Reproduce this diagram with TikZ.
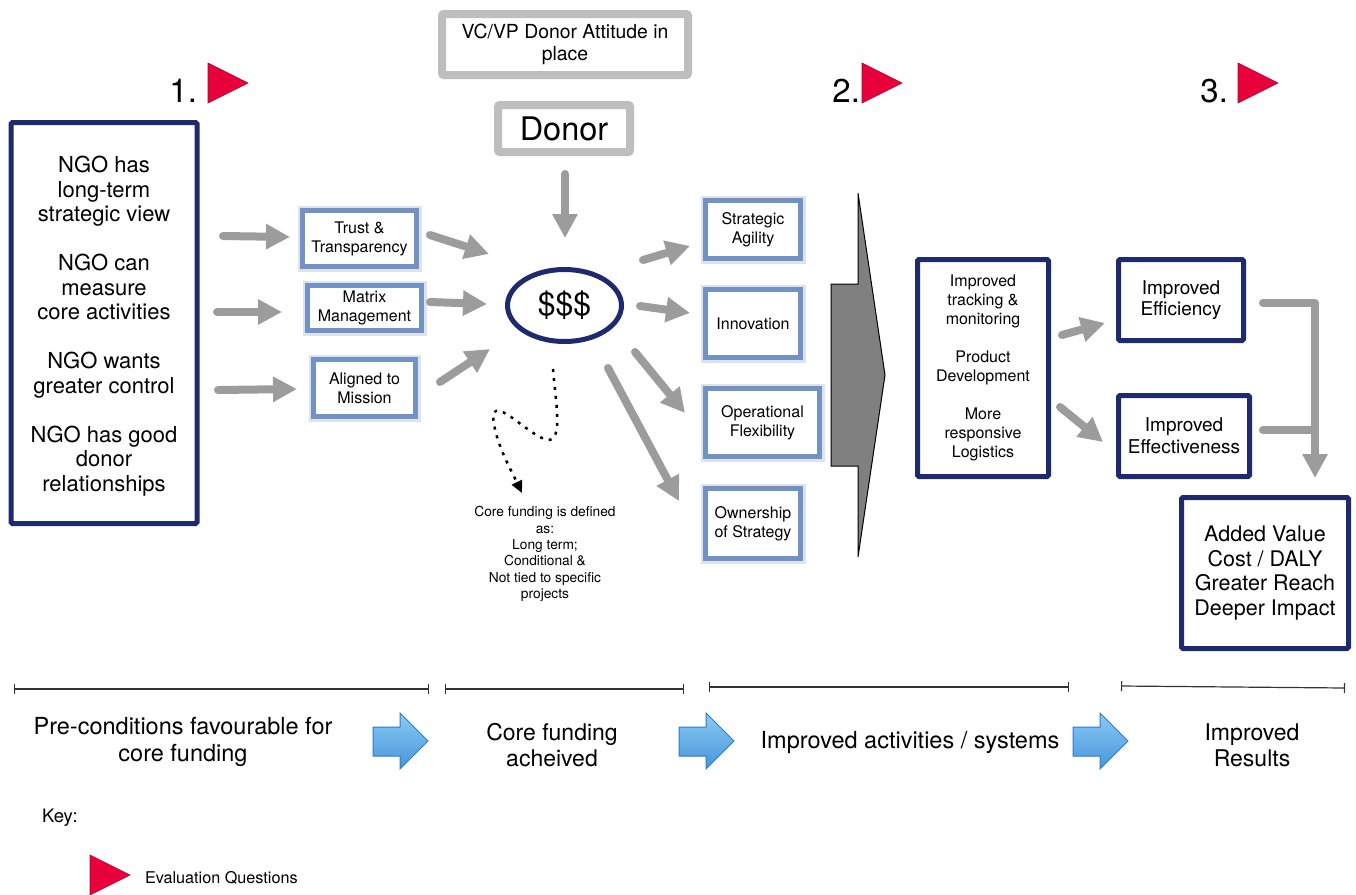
\documentclass[tikz,border=0pt]{standalone}
\usepackage{fontspec}
\setmainfont{TeX Gyre Heros}
\usetikzlibrary{arrows.meta,shapes.geometric}

\definecolor{navy}{HTML}{1F2A6E}
\definecolor{boxblue}{HTML}{7092C4}
\definecolor{halo}{HTML}{DFE2E8}
\definecolor{donorgray}{HTML}{BEBEBE}
\definecolor{arrowgray}{HTML}{9C9C9C}
\definecolor{evalred}{HTML}{E8003A}
\definecolor{wedgegray}{HTML}{808080}
\definecolor{skyA}{HTML}{8ACAF5}
\definecolor{skyB}{HTML}{4795DA}
\definecolor{skyline}{HTML}{2C7CCB}

\newcommand\setfs[2]{\fontsize{#1}{#2}\selectfont}
% blue stage arrow, #1 = left x of the shaft
\newcommand\skyarrow[1]{%
  \draw[skyline, line width=1pt, top color=skyA, bottom color=skyB]
    (#1,727) -- ++(27,0) -- ++(0,-14) -- ++(28,28) -- ++(-28,28)
    -- ++(0,-13) -- ++(-27,0) -- cycle;}
% red evaluation-question flag, #1 = left x, #2 = top y
\newcommand\evalflag[2]{%
  \draw[evalred!75!black, line width=0.6pt, fill=evalred]
    (#1,#2) -- ++(0,40) -- ++(40,-20) -- cycle;}

\begin{document}
\begin{tikzpicture}[x=1pt,y=-1pt,
  every node/.style={inner sep=0pt, outer sep=0pt, align=center, text=black},
  navybox/.style={draw=navy, line width=5pt, fill=white, rounded corners=1.5pt},
  bluebox/.style={draw=boxblue, line width=5pt, fill=white,
    preaction={draw=halo, line width=10pt}, font=\setfs{16}{19}},
  graybox/.style={draw=donorgray, line width=8pt, fill=white, rounded corners=2pt},
  garrow/.style={draw=arrowgray, line width=8pt, line cap=round,
    -{Triangle[width=24pt,length=24pt]}},
  gline/.style={draw=arrowgray, line width=8pt, line cap=round},
  bracket/.style={draw=black!80, line width=1.2pt, {Bar[width=10pt]}-{Bar[width=10pt]}},
]
\useasboundingbox (0,0) rectangle (1356,894);
\fill[white] (0,0) rectangle (1356,894);

% ---- evaluation question markers
\node[anchor=base east, font=\setfs{33}{36}] (q1) at (197,102) {1.};
\node[anchor=base east, font=\setfs{33}{36}] (q2) at (860,102) {2.};
\node[anchor=base east, font=\setfs{33}{36}] (q3) at (1228,102) {3.};
\evalflag{208}{63}
\evalflag{862}{63}
\evalflag{1238}{63}

% ---- pre-conditions
\node[navybox, minimum width=186pt, minimum height=401pt] (pre) at (104,323) {};
\node[font=\setfs{22}{24.5}] (pretext) at (104,326)
  {NGO has\\long-term\\strategic view\\[24.5pt]NGO can\\measure\\core activities\\[24.5pt]NGO wants\\greater control\\[24.5pt]NGO has good\\donor\\relationships};

\node[bluebox, minimum width=114pt, minimum height=56pt] (trust) at (359.5,238.5) {Trust \&\\Transparency};
\node[bluebox, minimum width=114pt, minimum height=45pt] (matrix) at (364.5,308) {Matrix\\Management};
\node[bluebox, minimum width=102pt, minimum height=57pt] (aligned) at (364.5,388) {Aligned to\\Mission};

% ---- donor and core funding
\node[graybox, minimum width=246pt, minimum height=61pt, font=\setfs{19.4}{22}]
  (attitude) at (565,44.5) {VC/VP Donor Attitude in\\place};
\node[graybox, minimum width=132pt, minimum height=47pt, font=\setfs{32.5}{36}]
  (donor) at (564,128.5) {Donor};
\node[ellipse, draw=navy, line width=5pt, fill=white, minimum width=114pt,
  minimum height=72pt, font=\setfs{32}{36}] (money) at (564.5,305.5) {\$\$\$};

\node[font=\setfs{13.75}{16.4}] (coredef) at (545,554)
  {Core funding is defined\\as:\\Long term;\\Conditional \&\\Not tied to specific\\projects};

% ---- improved activities
\draw[draw=black, line width=1pt, fill=wedgegray]
  (858,193) -- (885,375) -- (858,557) -- (858,466) -- (831,466) -- (831,284) -- (858,284) -- cycle;

\node[bluebox, minimum width=95pt, minimum height=58pt] (agility) at (753,229.5) {Strategic\\Agility};
\node[bluebox, minimum width=95pt, minimum height=68pt] (innov) at (753,323.5) {Innovation};
\node[bluebox, minimum width=114pt, minimum height=68pt] (opflex) at (762.5,422.5) {Operational\\Flexibility};
\node[bluebox, minimum width=95pt, minimum height=70pt] (owner) at (753,523.5) {Ownership\\of Strategy};

\node[navybox, minimum width=131pt, minimum height=217pt, font=\setfs{16}{19}]
  (track) at (983,368)
  {Improved\\tracking \&\\monitoring\\[19pt]Product\\Development\\[19pt]More\\responsive\\Logistics};

% ---- improved results
\node[navybox, minimum width=125pt, minimum height=81pt, font=\setfs{19}{21.7}]
  (effic) at (1181,300) {Improved\\Efficiency};
\node[navybox, minimum width=131pt, minimum height=81pt, font=\setfs{19}{21.7}]
  (effect) at (1184,436) {Improved\\Effectiveness};
\node[navybox, minimum width=167pt, minimum height=151pt, font=\setfs{21.5}{24.5}]
  (value) at (1265,573) {Added Value\\Cost / DALY\\Greater Reach\\Deeper Impact};

% ---- grey flow arrows
\coordinate (a1s) at (223,236);  \coordinate (a1e) at (290,237);
\coordinate (a2s) at (217,312);  \coordinate (a2e) at (282,312);
\coordinate (a3s) at (218,390);  \coordinate (a3e) at (297,389);
\coordinate (b1s) at (430,235);  \coordinate (b1e) at (489,254);
\coordinate (b2s) at (430,302);  \coordinate (b2e) at (487,304);
\coordinate (b3s) at (440,382);  \coordinate (b3e) at (490,349);
\coordinate (dns) at (565,174);  \coordinate (dne) at (565,238);
\coordinate (c1s) at (643,260);  \coordinate (c1e) at (690,246);
\coordinate (c2s) at (640,306);  \coordinate (c2e) at (690,313);
\coordinate (c3s) at (635,352);  \coordinate (c3e) at (685,413);
\coordinate (c4s) at (608,368);  \coordinate (c4e) at (679,501);
\coordinate (d1s) at (1062,335); \coordinate (d1e) at (1105,323);
\coordinate (d2s) at (1060,407); \coordinate (d2e) at (1103,442);

\draw[garrow] (a1s) -- (a1e);
\draw[garrow] (a2s) -- (a2e);
\draw[garrow] (a3s) -- (a3e);
\draw[garrow] (b1s) -- (b1e);
\draw[garrow] (b2s) -- (b2e);
\draw[garrow] (b3s) -- (b3e);
\draw[garrow] (dns) -- (dne);
\draw[garrow] (c1s) -- (c1e);
\draw[garrow] (c2s) -- (c2e);
\draw[garrow] (c3s) -- (c3e);
\draw[garrow] (c4s) -- (c4e);
\draw[garrow] (d1s) -- (d1e);
\draw[garrow] (d2s) -- (d2e);

% results merge into the added value box
\coordinate (efA) at (1263,303); \coordinate (efC) at (1315,303);
\coordinate (ecA) at (1263,430); \coordinate (ecC) at (1315,430);
\coordinate (resTip) at (1315,478);
\draw[gline] (ecA) -- (ecC);
\draw[garrow, line join=round] (efA) -- (efC) -- (resTip);

% dotted note pointer
\coordinate (dotS) at (553,369); \coordinate (dotE) at (522,493);
\draw[black, line width=2.5pt, dash pattern=on 3pt off 6pt, -{Triangle[width=11pt,length=12pt]}]
  (dotS) .. controls (556,405) and (563,440) .. (548,440)
  .. controls (530,437) and (497,398) .. (493,415)
  .. controls (494,440) and (510,468) .. (dotE);

% ---- stages along the bottom
\coordinate (s1a) at (14,689);   \coordinate (s1b) at (429,689);
\coordinate (s2a) at (445,689);  \coordinate (s2b) at (684,689);
\coordinate (s3a) at (709,687);  \coordinate (s3b) at (1069,687);
\coordinate (s4a) at (1121,686); \coordinate (s4b) at (1345,688);
\draw[bracket] (s1a) -- (s1b);
\draw[bracket] (s2a) -- (s2b);
\draw[bracket] (s3a) -- (s3b);
\draw[bracket] (s4a) -- (s4b);

\node[font=\setfs{23.5}{27.5}] (stage1) at (183,742) {Pre-conditions favourable for\\core funding};
\node[font=\setfs{23}{26}] (stage2) at (552,745) {Core funding\\acheived};
\node[font=\setfs{23.5}{26}] (stage3) at (910,742) {Improved activities / systems};
\node[font=\setfs{23}{26}] (stage4) at (1252,745) {Improved\\Results};

\skyarrow{373}
\skyarrow{679}
\skyarrow{1073}

% ---- key
\node[anchor=west, font=\setfs{18.5}{20}] (key) at (42,818) {Key:};
\evalflag{90}{855}
\node[anchor=west, font=\setfs{16.2}{18}] (keyeq) at (145,878) {Evaluation Questions};
\end{tikzpicture}
\end{document}
